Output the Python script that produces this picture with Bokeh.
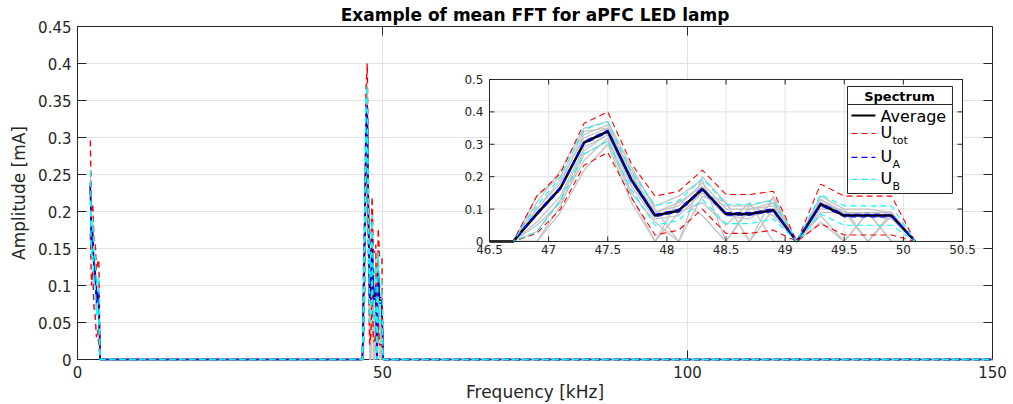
from bokeh.plotting import figure
from bokeh.models import Range1d, FixedTicker
from bokeh.core.properties import value
from bokeh.embed import file_html
from bokeh.resources import INLINE

# ---------------- texts / ticks ----------------
title_text = "Example of mean FFT for aPFC LED lamp"
x_label = "Frequency [kHz]"
y_label = "Amplitude [mA]"

x_ticks = [0, 50, 100, 150]
x_tick_labels = ["0", "50", "100", "150"]
y_ticks = [0, 0.05, 0.1, 0.15, 0.2, 0.25, 0.3, 0.35, 0.4, 0.45]
y_tick_labels = ["0", "0.05", "0.1", "0.15", "0.2", "0.25", "0.3", "0.35", "0.4", "0.45"]

inset_x_ticks = [46.5, 47, 47.5, 48, 48.5, 49, 49.5, 50, 50.5]
inset_x_tick_labels = ["46.5", "47", "47.5", "48", "48.5", "49", "49.5", "50", "50.5"]
inset_y_ticks = [0, 0.1, 0.2, 0.3, 0.4, 0.5]
inset_y_tick_labels = ["0", "0.1", "0.2", "0.3", "0.4", "0.5"]

legend_title = "Spectrum"
legend_main = ["Average", "U", "U", "U"]
legend_sub = ["", "tot", "A", "B"]

# ---------------- data: low-frequency cluster ----------------
freq_low = [2.1, 2.3, 2.5, 2.7, 2.9, 3.1, 3.3, 3.5, 3.7]
avg_low = [0.235, 0.16, 0.17, 0.12, 0.12, 0.08, 0.09, 0.08, 0.0]
utot_up_low = [0.296, 0.20, 0.21, 0.16, 0.16, 0.12, 0.13, 0.135, 0.0]
utot_lo_low = [0.17, 0.10, 0.12, 0.07, 0.06, 0.03, 0.04, 0.02, 0.0]
ua_up_low = [0.239, 0.164, 0.174, 0.124, 0.124, 0.084, 0.094, 0.084, 0.0]
ua_lo_low = [0.231, 0.156, 0.166, 0.116, 0.116, 0.076, 0.086, 0.076, 0.0]
ub_up_low = [0.255, 0.18, 0.19, 0.14, 0.14, 0.10, 0.11, 0.11, 0.0]
ub_lo_low = [0.215, 0.14, 0.15, 0.10, 0.10, 0.06, 0.07, 0.05, 0.0]
gray_low = [
    [0.25, 0.17, 0.18, 0.13, 0.13, 0.09, 0.10, 0.09, 0.0],
    [0.22, 0.15, 0.16, 0.11, 0.11, 0.07, 0.08, 0.06, 0.0],
    [0.24, 0.18, 0.15, 0.14, 0.10, 0.09, 0.07, 0.10, 0.0],
    [0.23, 0.14, 0.19, 0.10, 0.13, 0.06, 0.11, 0.05, 0.0],
]

# ---------------- data: 47-50 kHz cluster ----------------
freq_high = [46.5, 46.7, 46.9, 47.1, 47.3, 47.5, 47.7, 47.9, 48.1, 48.3,
             48.5, 48.7, 48.9, 49.1, 49.3, 49.5, 49.7, 49.9, 50.1]
avg_high = [0, 0, 0.085, 0.165, 0.305, 0.34, 0.19, 0.08, 0.095, 0.162,
            0.085, 0.085, 0.097, 0, 0.115, 0.08, 0.08, 0.08, 0]
utot_up_high = [0, 0, 0.14, 0.21, 0.365, 0.40, 0.24, 0.14, 0.155, 0.22,
                0.145, 0.145, 0.155, 0, 0.177, 0.14, 0.14, 0.14, 0]
utot_lo_high = [0, 0, 0.025, 0.10, 0.235, 0.275, 0.135, 0.02, 0.035, 0.10,
                0.025, 0.025, 0.035, 0, 0.055, 0.02, 0.02, 0.02, 0]
ua_up_high = [0, 0, 0.089, 0.169, 0.309, 0.344, 0.194, 0.084, 0.099, 0.166,
              0.089, 0.089, 0.101, 0, 0.119, 0.084, 0.084, 0.084, 0]
ua_lo_high = [0, 0, 0.081, 0.161, 0.301, 0.336, 0.186, 0.076, 0.091, 0.158,
              0.081, 0.081, 0.093, 0, 0.111, 0.076, 0.076, 0.076, 0]
ub_up_high = [0, 0, 0.11, 0.20, 0.345, 0.37, 0.215, 0.11, 0.125, 0.195,
              0.115, 0.115, 0.125, 0, 0.145, 0.11, 0.11, 0.11, 0]
ub_lo_high = [0, 0, 0.03, 0.125, 0.27, 0.31, 0.16, 0.05, 0.065, 0.13,
              0.055, 0.055, 0.07, 0, 0.085, 0.05, 0.05, 0.05, 0]
gray_high = [
    [0, 0, 0.10, 0.18, 0.33, 0.36, 0.21, 0.09, 0.11, 0.18, 0.10, 0.10, 0.12, 0, 0.13, 0.09, 0.09, 0.09, 0],
    [0, 0, 0.06, 0.14, 0.29, 0.33, 0.17, 0.07, 0.08, 0.15, 0.08, 0.09, 0.09, 0, 0.11, 0.08, 0.08, 0.08, 0],
    [0, 0, 0.0, 0.09, 0.22, 0.30, 0.12, 0.0, 0.13, 0.08, 0.0, 0.11, 0.13, 0, 0.08, 0.0, 0.09, 0.0, 0],
    [0, 0, 0.12, 0.22, 0.35, 0.37, 0.23, 0.10, 0.0, 0.20, 0.12, 0.0, 0.14, 0, 0.14, 0.10, 0.0, 0.08, 0],
    [0, 0, 0.08, 0.16, 0.31, 0.34, 0.19, 0.08, 0.10, 0.16, 0.09, 0.08, 0.10, 0, 0.12, 0.08, 0.08, 0.08, 0],
    [0, 0, 0.0, 0.11, 0.27, 0.31, 0.14, 0.0, 0.09, 0.12, 0.05, 0.12, 0.0, 0, 0.10, 0.10, 0.10, 0.09, 0],
    [0, 0, 0.14, 0.20, 0.34, 0.35, 0.22, 0.11, 0.14, 0.19, 0.0, 0.10, 0.11, 0, 0.06, 0.0, 0.09, 0.0, 0],
    [0, 0, 0.05, 0.12, 0.25, 0.32, 0.15, 0.06, 0.0, 0.14, 0.11, 0.11, 0.08, 0, 0.12, 0.09, 0.0, 0.09, 0],
    [0, 0, 0.10, 0.19, 0.32, 0.35, 0.20, 0.09, 0.12, 0.17, 0.08, 0.07, 0.12, 0, 0.13, 0.08, 0.09, 0.08, 0],
    [0, 0, 0.03, 0.13, 0.28, 0.33, 0.18, 0.08, 0.10, 0.15, 0.12, 0.0, 0.10, 0, 0.09, 0.09, 0.08, 0.07, 0],
]

# end of spectrum (flat zero up to 150 kHz)
freq_end = [150.0]
zero_end = [0.0]

# ---------------- styles ----------------
FONT = "DejaVu Sans"
AX = "#262626"
GRID = "#e3e3e3"
GRAY = "#c4c4c4"
RED, BLUE, CYAN = "#ff0000", "#0000ff", "#00ffff"
DASH = "6 4"

freq_all = freq_low + freq_high + freq_end


def full(low, high):
    return low + high + zero_end


p = figure(width=1013, height=404, output_backend="svg", toolbar_location=None,
           x_range=Range1d(0, 150), y_range=Range1d(0, 0.45),
           min_border_left=77, min_border_right=21, min_border_top=26,
           min_border_bottom=45, title=title_text,
           background_fill_color="white", border_fill_color="white")
p.outline_line_color = AX
p.outline_line_width = 1
p.title.align = "center"
p.title.vertical_align = "top"
p.title.text_font = FONT
p.title.text_font_size = "17px"
p.title.text_font_style = "bold"
p.title.text_color = "black"
p.title.standoff = 0

p.xaxis.ticker = FixedTicker(ticks=x_ticks)
p.yaxis.ticker = FixedTicker(ticks=y_ticks)
p.xaxis.major_label_overrides = dict(zip(x_ticks, x_tick_labels))
p.yaxis.major_label_overrides = dict(zip(y_ticks, y_tick_labels))
p.xaxis.axis_label = x_label
p.yaxis.axis_label = y_label
for ax in (p.xaxis, p.yaxis):
    ax.major_tick_in = 9
    ax.major_tick_out = 0
    ax.minor_tick_in = 0
    ax.minor_tick_out = 0
    ax.axis_line_color = AX
    ax.major_tick_line_color = AX
    ax.major_label_text_font = FONT
    ax.major_label_text_font_size = "15px"
    ax.major_label_text_color = AX
    ax.axis_label_text_font = FONT
    ax.axis_label_text_font_size = "17px"
    ax.axis_label_text_font_style = "normal"
    ax.axis_label_text_color = AX
p.xaxis.major_label_standoff = 6
p.yaxis.major_label_standoff = 6
p.xaxis.axis_label_standoff = 1
p.yaxis.axis_label_standoff = 6
p.xgrid.grid_line_color = GRID
p.ygrid.grid_line_color = GRID

# mirrored ticks on top and right edges of the main box
tick_len_y = 9 * 0.45 / 333.0
tick_len_x = 9 * 150 / 915.0
p.segment(x0=x_ticks, y0=[0.45] * len(x_ticks), x1=x_ticks,
          y1=[0.45 - tick_len_y] * len(x_ticks), line_color=AX, line_width=1)
p.segment(x0=[150] * len(y_ticks), y0=y_ticks, x1=[150 - tick_len_x] * len(y_ticks),
          y1=y_ticks, line_color=AX, line_width=1)

# ---------------- main spectrum (drawn above the axes, like the original) ----------------
p.multi_line(xs=[freq_low] * len(gray_low), ys=gray_low, line_color=GRAY, line_width=1,
             level="overlay")
p.multi_line(xs=[freq_high] * len(gray_high), ys=gray_high, line_color=GRAY, line_width=1,
             level="overlay")
p.line(freq_all, full(avg_low, avg_high), line_color="black", line_width=1.5, level="overlay")
for lo, hi, col in [(utot_up_low, utot_up_high, RED), (utot_lo_low, utot_lo_high, RED),
                    (ua_up_low, ua_up_high, BLUE), (ua_lo_low, ua_lo_high, BLUE),
                    (ub_up_low, ub_up_high, CYAN), (ub_lo_low, ub_lo_high, CYAN)]:
    p.line(freq_all, full(lo, hi), line_color=col, line_width=1.4, line_dash=DASH,
           level="overlay")

# ---------------- inset (zoom on 46.5-50.5 kHz) ----------------
ix0, ix1 = inset_x_ticks[0], inset_x_ticks[-1]
iy0, iy1 = inset_y_ticks[0], inset_y_ticks[-1]
sub = p.subplot(x_source=Range1d(ix0, ix1), y_source=Range1d(iy0, iy1),
                x_target=Range1d(67.54, 145.08), y_target=Range1d(0.1595, 0.3784))

sub.quad(left=ix0, right=ix1, bottom=iy0, top=iy1, fill_color="white", line_color=None)
sub.segment(x0=inset_x_ticks, y0=[iy0] * len(inset_x_ticks), x1=inset_x_ticks,
            y1=[iy1] * len(inset_x_ticks), line_color=GRID, line_width=1)
sub.segment(x0=[ix0] * len(inset_y_ticks), y0=inset_y_ticks, x1=[ix1] * len(inset_y_ticks),
            y1=inset_y_ticks, line_color=GRID, line_width=1)

sub.multi_line(xs=[freq_high] * len(gray_high), ys=gray_high, line_color=GRAY, line_width=1.3)
sub.line(freq_high, avg_high, line_color="black", line_width=2.5)
for arr, col in [(utot_up_high, RED), (utot_lo_high, RED), (ua_up_high, BLUE),
                 (ua_lo_high, BLUE), (ub_up_high, CYAN), (ub_lo_high, CYAN)]:
    sub.line(freq_high, arr, line_color=col, line_width=1.1, line_dash=DASH)

# inset frame and ticks
sub.quad(left=ix0, right=ix1, bottom=iy0, top=iy1, fill_color=None, line_color=AX, line_width=1)
itl_y = 5 * (iy1 - iy0) / 162.0
itl_x = 5 * (ix1 - ix0) / 473.0
n = len(inset_x_ticks)
m = len(inset_y_ticks)
sub.segment(x0=inset_x_ticks, y0=[iy0] * n, x1=inset_x_ticks, y1=[iy0 + itl_y] * n, line_color=AX)
sub.segment(x0=inset_x_ticks, y0=[iy1] * n, x1=inset_x_ticks, y1=[iy1 - itl_y] * n, line_color=AX)
sub.segment(x0=[ix0] * m, y0=inset_y_ticks, x1=[ix0 + itl_x] * m, y1=inset_y_ticks, line_color=AX)
sub.segment(x0=[ix1] * m, y0=inset_y_ticks, x1=[ix1 - itl_x] * m, y1=inset_y_ticks, line_color=AX)
sub.text(x=inset_x_ticks, y=[iy0] * n, text=inset_x_tick_labels, text_align="center",
         text_baseline="top", y_offset=4, text_font=value(FONT), text_font_size="12px",
         text_color=AX)
sub.text(x=[ix0] * m, y=inset_y_ticks, text=inset_y_tick_labels, text_align="right",
         text_baseline="middle", x_offset=-6, text_font=value(FONT), text_font_size="12px",
         text_color=AX)

# ---------------- legend (inside inset) ----------------
lg_left, lg_right, lg_bottom, lg_top = 49.5275, 50.4154, 0.1481, 0.4784
lg_sep = 0.4228
lg_title_x, lg_title_y = 49.967, 0.4475
lg_line_x0, lg_line_x1, lg_text_x = 49.561, 49.764, 49.8066
lg_rows = [0.3889, 0.3333, 0.2593, 0.1914]
lg_colors = ["black", RED, BLUE, CYAN]
lg_dashes = ["solid", DASH, DASH, DASH]
lg_widths = [2, 1.2, 1.2, 1.2]

sub.quad(left=lg_left, right=lg_right, bottom=lg_bottom, top=lg_top,
         fill_color="white", line_color=AX, line_width=1)
sub.segment(x0=[lg_left], y0=[lg_sep], x1=[lg_right], y1=[lg_sep], line_color=AX, line_width=1)
sub.text(x=[lg_title_x], y=[lg_title_y], text=[legend_title], text_align="center",
         text_baseline="middle", text_font=value(FONT), text_font_size="13px",
         text_font_style="bold", text_color="black")
for yrow, col, dash, w in zip(lg_rows, lg_colors, lg_dashes, lg_widths):
    sub.line([lg_line_x0, lg_line_x1], [yrow, yrow], line_color=col, line_dash=dash, line_width=w)
sub.text(x=[lg_text_x], y=[lg_rows[0]], text=[legend_main[0]], text_align="left",
         text_baseline="middle", y_offset=1, text_font=value(FONT), text_font_size="16px",
         text_color="black")
sub.text(x=[lg_text_x] * 3, y=lg_rows[1:], text=legend_main[1:], text_align="left",
         text_baseline="middle", y_offset=-1, text_font=value(FONT), text_font_size="16px",
         text_color="black")
sub.text(x=[lg_text_x] * 3, y=lg_rows[1:], text=legend_sub[1:], text_align="left",
         text_baseline="middle", x_offset=12, y_offset=7, text_font=value(FONT),
         text_font_size="11px", text_color="black")

open("out.html", "w").write(file_html(p, INLINE))
